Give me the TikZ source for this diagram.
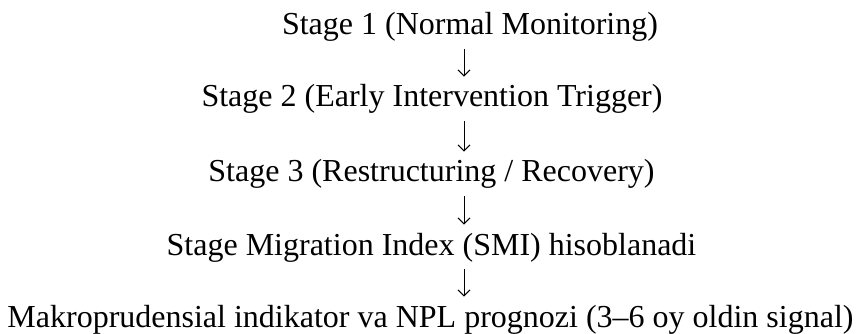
\documentclass[tikz,border=0pt]{standalone}
\usepackage{fontspec}
\setmainfont{Liberation Serif}
\usetikzlibrary{arrows.meta}

\begin{document}
\begin{tikzpicture}[x=1pt,y=1pt,
  stagetxt/.style={anchor=base, inner sep=0pt, font=\fontsize{32}{38}\selectfont},
  flow/.style={-{Straight Barb[length=6pt,width=12pt]}, line width=1pt, shorten <=7pt, shorten >=8pt}]
\useasboundingbox (0,0) rectangle (857,-334);
% stages, top to bottom
\node[stagetxt] (s1) at (470,-35) {Stage 1 (Normal Monitoring)};
\node[stagetxt] (s2) at (432,-107) {Stage 2 (Early Intervention Trigger)};
\node[stagetxt] (s3) at (431.5,-182) {Stage 3 (Restructuring / Recovery)};
\node[stagetxt] (smi) at (431.5,-255) {Stage Migration Index (SMI) hisoblanadi};
\node[stagetxt] (npl) at (430.5,-327) {Makroprudensial indikator va NPL prognozi (3--6 oy oldin signal)};
% down arrows between the stages
\coordinate (axis) at (464,0);
\foreach \a/\b in {s1/s2,s2/s3,s3/smi,smi/npl}
  \draw[flow] (\a.south -| axis) -- (\b.north -| axis);
\end{tikzpicture}
\end{document}
